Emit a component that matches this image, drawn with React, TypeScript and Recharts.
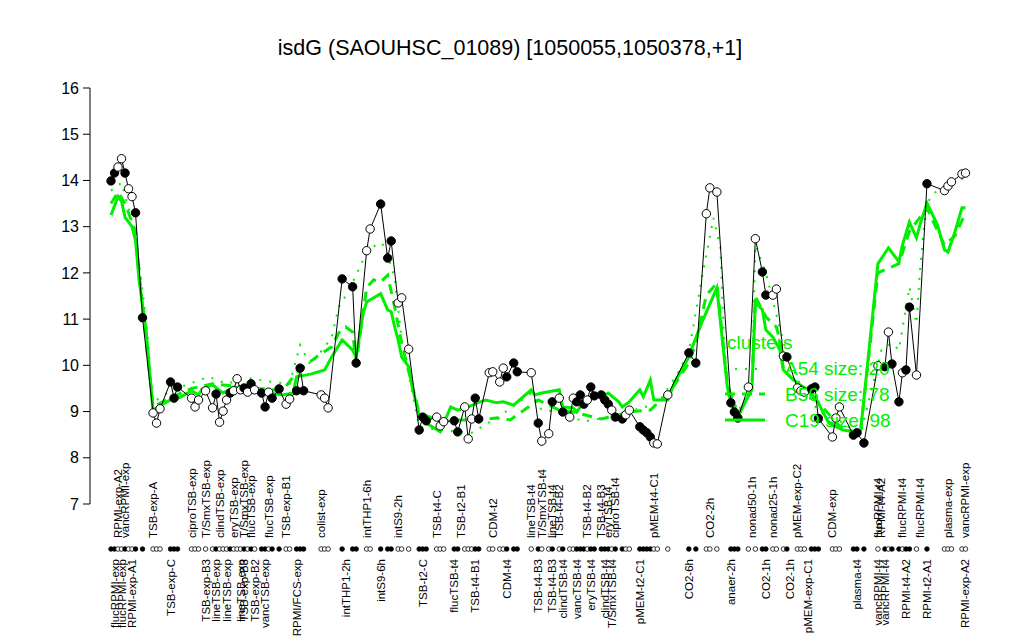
import React from 'react';
import { LineChart, Line, XAxis, YAxis } from 'recharts';

const FONT = '"Liberation Sans", Arial, Helvetica, sans-serif';
const GREEN = '#00ee00';

// position of each sample along the x axis, its expression and whether it is drawn filled
const samplePos = [
  6, 7, 8, 9, 10, 11, 12, 13, 15, 18,
  19, 20, 23, 24, 25, 29, 30, 31, 33, 35,
  36, 37, 38, 39, 40, 41, 42, 43, 44, 45,
  46, 47, 49, 50, 51, 52, 54, 56, 57, 59,
  60, 61, 66, 67, 68, 72, 75, 76, 79, 80,
  83, 85, 86, 88, 89, 91, 94, 95, 96, 99,
  100, 101, 104, 105, 107, 108, 109, 110, 111, 114,
  115, 117, 118, 119, 121, 122, 126, 128, 129, 131,
  132, 134, 135, 137, 138, 139, 140, 141, 142, 143,
  144, 146, 147, 148, 149, 150, 152, 153, 154, 157,
  158, 159, 160, 161, 162, 165, 171, 173, 176, 177,
  179, 183, 184, 185, 188, 190, 192, 193, 195, 196,
  198, 199, 202, 203, 204, 206, 207, 208, 212, 213,
  214, 218, 219, 221, 225, 227, 228, 229, 231, 232,
  233, 234, 236, 239, 244, 245, 246, 249, 250,
];
const expression = [
  13.99, 14.16, 14.29, 14.47, 14.16, 13.82, 13.65, 13.3, 11.03, 8.97,
  8.75, 9.06, 9.64, 9.29, 9.53, 9.29, 9.1, 9.25, 9.45, 9.08,
  9.38, 8.77, 9.01, 9.25, 9.4, 9.45, 9.71, 9.47, 9.51, 9.42,
  9.6, 9.47, 9.4, 9.1, 9.42, 9.29, 9.49, 9.16, 9.27, 9.45,
  9.94, 9.45, 9.36, 9.29, 9.08, 11.87, 11.7, 10.05, 12.48, 12.95,
  13.49, 12.32, 12.69, 11.35, 11.46, 10.35, 8.6, 8.88, 8.8, 8.88,
  8.69, 8.78, 8.8, 8.56, 9.1, 8.41, 8.84, 9.29, 8.84, 9.84,
  9.86, 9.64, 9.94, 9.75, 10.05, 9.86, 9.84, 8.75, 8.36, 8.52,
  9.21, 9.29, 8.99, 8.88, 9.29, 9.21, 9.36, 9.16, 9.25, 9.53,
  9.34, 9.36, 9.25, 9.16, 9.03, 8.88, 8.84, 8.93, 9.03, 8.67,
  8.6, 8.54, 8.45, 8.32, 8.3, 9.36, 10.27, 10.05, 13.28, 13.84,
  13.75, 9.19, 8.99, 8.86, 9.53, 12.74, 12.02, 11.52, 11.52, 11.65,
  10.2, 10.18, 9.51, 9.45, 9.42, 9.49, 9.53, 8.85, 8.45, 8.86,
  9.1, 8.49, 8.54, 8.32, 9.99, 9.97, 10.72, 10.03, 9.21, 9.84,
  9.9, 11.26, 9.79, 13.93, 13.78, 13.88, 13.97, 14.14, 14.16,
];
const isFilled = [
  1, 1, 0, 0, 1, 0, 0, 1, 1, 0,
  0, 0, 1, 1, 1, 0, 0, 0, 0, 0,
  1, 0, 0, 0, 1, 0, 0, 0, 1, 0,
  1, 0, 1, 1, 0, 1, 1, 0, 0, 1,
  1, 1, 0, 0, 0, 1, 1, 1, 0, 0,
  1, 1, 1, 0, 0, 0, 1, 1, 1, 0,
  0, 0, 1, 1, 0, 0, 0, 1, 1, 0,
  0, 0, 0, 1, 1, 1, 0, 1, 0, 0,
  1, 0, 1, 0, 0, 1, 1, 1, 0, 1,
  1, 1, 1, 1, 0, 1, 1, 0, 0, 1,
  1, 1, 1, 0, 0, 0, 1, 1, 0, 0,
  0, 1, 1, 1, 0, 0, 1, 1, 0, 0,
  0, 1, 0, 0, 0, 1, 1, 1, 0, 0,
  0, 1, 1, 1, 0, 1, 0, 1, 1, 0,
  1, 1, 0, 1, 0, 0, 0, 0, 0,
];

// cluster profiles
const c19Pos = [
  6, 8, 9, 10, 12, 13, 14, 16, 18, 20,
  23, 26, 29, 31, 32, 35, 38, 41, 45, 48,
  51, 55, 58, 59, 63, 67, 69, 72, 75, 76,
  78, 79, 83, 85, 86, 87, 88, 89, 91, 92,
  94, 96, 100, 103, 105, 108, 111, 113, 116, 118,
  121, 126, 127, 129, 134, 135, 138, 139, 141, 144,
  146, 148, 151, 152, 154, 157, 158, 160, 161, 165,
  167, 171, 172, 175, 179, 182, 183, 185, 187, 189,
  190, 192, 193, 195, 197, 198, 200, 202, 205, 208,
  209, 211, 215, 220, 225, 228, 231, 232, 234, 236,
  237, 239, 242, 244, 245, 247, 249, 250,
];
const c19Val = [
  13.25, 13.65, 13.55, 13.2, 13.0, 12.7, 11.85, 10.77, 9.03, 9.13,
  9.25, 9.32, 9.45, 9.36, 9.49, 9.58, 9.4, 9.53, 9.49, 9.47,
  9.4, 9.36, 9.4, 9.75, 9.81, 9.9, 10.18, 10.55, 10.33, 10.18,
  11.13, 11.37, 11.55, 11.2, 11.16, 10.83, 10.55, 10.18, 9.97, 9.53,
  8.93, 8.75, 8.56, 9.1, 9.03, 9.1, 9.2, 9.25, 9.19, 9.21,
  9.14, 9.47, 9.36, 9.4, 9.47, 9.1, 9.08, 8.99, 9.21, 9.36,
  9.32, 9.4, 9.21, 9.1, 9.21, 9.47, 9.32, 9.68, 9.25, 9.25,
  9.64, 10.18, 10.4, 10.98, 11.67, 9.53, 9.19, 8.88, 9.19, 9.47,
  11.37, 11.2, 10.77, 10.61, 10.33, 9.9, 9.75, 9.62, 9.47, 9.19,
  9.03, 8.75, 8.6, 8.54, 12.2, 12.54, 12.24, 12.6, 13.1, 12.76,
  13.04, 13.51, 13.04, 12.5, 12.45, 12.89, 13.41, 13.41,
];
const b56Pos = [
  6, 8, 10, 13, 14, 18, 23, 29, 35, 41,
  48, 55, 59, 65, 69, 71, 73, 75, 76, 79,
  81, 83, 85, 87, 89, 94, 100, 106, 111, 116,
  120, 128, 134, 138, 146, 151, 153, 160, 166, 171,
  173, 176, 179, 182, 185, 189, 190, 193, 196, 197,
  198, 202, 208, 215, 220, 225, 231, 234, 239, 244,
  247, 250,
];
const b56Val = [
  13.5, 13.75, 13.5, 12.9, 12.0, 9.1, 9.3, 9.5, 9.6, 9.55,
  9.5, 9.45, 9.85, 10.2, 10.4, 10.7, 10.83, 10.72, 10.05, 11.68,
  11.85, 11.8, 11.95, 11.26, 10.48, 8.97, 8.8, 8.82, 8.82, 8.86,
  8.82, 9.25, 9.03, 8.99, 8.84, 8.93, 8.99, 9.03, 9.47, 10.05,
  10.48, 11.52, 11.78, 9.6, 8.9, 9.5, 11.48, 11.05, 10.83, 10.55,
  9.9, 9.6, 9.2, 8.6, 8.55, 12.0, 12.2, 12.9, 13.4, 12.6,
  12.8, 13.3,
];
const a54Pos = [
  6, 9, 11, 12, 13, 16, 18, 23, 33, 34,
  39, 45, 51, 57, 60, 63, 69, 71, 74, 78,
  82, 84, 87, 89, 94, 100, 109, 117, 126, 129,
  134, 141, 145, 151, 157, 162, 168, 171, 175, 177,
  178, 180, 181, 182, 185, 189, 190, 193, 195, 198,
  202, 208, 214, 220, 226, 229, 231, 234, 236, 237,
  238, 239, 241, 245, 248, 250,
];
const a54Val = [
  13.78, 13.95, 13.4, 13.1, 12.8, 11.0, 9.2, 9.45, 9.73, 9.75,
  9.6, 9.73, 9.65, 9.6, 10.44, 10.0, 10.6, 11.26, 11.63, 12.28,
  12.65, 12.6, 11.91, 10.55, 8.67, 8.6, 8.54, 8.9, 9.4, 9.03,
  9.0, 8.78, 8.84, 8.9, 9.08, 9.15, 9.85, 10.3, 12.0, 12.78,
  13.19, 12.56, 10.61, 9.62, 9.0, 9.5, 12.6, 12.0, 11.4, 10.5,
  9.7, 9.0, 8.8, 8.5, 10.33, 10.48, 10.33, 11.7, 10.9, 12.06,
  12.87, 13.5, 13.73, 13.86, 13.97, 14.1,
];

// condition names above and below the sample strip
const topLabelPos = [
  8, 10, 18, 29, 33, 37, 41, 44, 46, 51,
  56, 66, 79, 88, 99, 106, 115, 126, 129, 132,
  134, 142, 146, 148, 150, 161, 177, 189, 195, 202,
  212, 225, 226, 232, 237, 245, 250,
];
const topLabels = [
  'RPMI-exp-A2', 'vancRPMI-exp', 'TSB-exp-A', 'ciproTSB-exp', 'T/SmxTSB-exp', 'clindTSB-exp', 'eryTSB-exp', 'T/SmxTSB-exp', 'flucTSB-exp', 'flucTSB-exp',
  'TSB-exp-B1', 'colist-exp', 'intTHP1-6h', 'intS9-2h', 'TSB-t4-C', 'TSB-t2-B1', 'CDM-t2', 'lineTSB-t4', 'T/SmxTSB-t4', 'lineTSB-t4',
  'TSB-t4-B2', 'TSB-t4-B2', 'TSB-t4-B3', 'eryTSB-t4', 'ciproTSB-t4', 'pMEM-t4-C1', 'CO2-2h', 'nonad50-1h', 'nonad25-1h', 'pMEM-exp-C2',
  'CDM-exp', 'flucRPMI-t4', 'RPMI-t4-A2', 'flucRPMI-t4', 'flucRPMI-t4', 'plasma-exp', 'vancRPMI-exp',
];
const bottomLabelPos = [
  7, 9, 12, 23, 33, 36, 39, 43, 44, 47,
  50, 59, 73, 83, 95, 104, 110, 119, 128, 132,
  135, 139, 143, 147, 149, 157, 171, 183, 193, 200,
  205, 219, 225, 227, 233, 239, 250,
];
const bottomLabels = [
  'flucRPMI-exp', 'flucRPMI-exp', 'RPMI-exp-A1', 'TSB-exp-C', 'TSB-exp-B3', 'lineTSB-exp', 'lineTSB-exp', 'lineTSB-exp', 'TSB-exp-B3', 'TSB-exp-B2',
  'vancTSB-exp', 'RPMI/FCS-exp', 'intTHP1-2h', 'intS9-6h', 'TSB-t2-C', 'flucTSB-t4', 'TSB-t4-B1', 'CDM-t4', 'TSB-t4-B3', 'TSB-t4-B3',
  'clindTSB-t4', 'vancTSB-t4', 'eryTSB-t4', 'clindTSB-t4', 'T/SmxTSB-t4', 'pMEM-t2-C1', 'CO2-6h', 'anaer-2h', 'CO2-1h', 'CO2-1h',
  'pMEM-exp-C1', 'plasma-t4', 'vancRPMI-t4', 'vancRPMI-t4', 'RPMI-t4-A2', 'RPMI-t2-A1', 'RPMI-exp-A2',
];

const yTicks = [7, 8, 9, 10, 11, 12, 13, 14, 15, 16];

const points = samplePos.map((x, i) => ({ x, v: expression[i], filled: isFilled[i] === 1 }));
const toSeries = (pos: number[], val: number[]) => pos.map((x, i) => ({ x, v: val[i] }));
const c19Data = toSeries(c19Pos, c19Val);
const b56Data = toSeries(b56Pos, b56Val);
const a54Data = toSeries(a54Pos, a54Val);

const allTicks = Array.from(new Set([...samplePos, ...topLabelPos, ...bottomLabelPos])).sort((a, b) => a - b);

function SampleTick(props: any) {
  const { x, y, payload } = props;
  const pos = payload.value;
  const si = samplePos.indexOf(pos);
  const ti = topLabelPos.indexOf(pos);
  const bi = bottomLabelPos.indexOf(pos);
  const topY = y + 34;
  const botY = y + 55;
  return (
    <g>
      {si >= 0 && (
        <circle cx={x} cy={y + 45} r={2.3} fill={isFilled[si] ? '#000' : '#fff'} stroke="#000" strokeWidth={0.8} />
      )}
      {ti >= 0 && (
        <text x={x} y={topY} transform={`rotate(-90 ${x} ${topY})`} textAnchor="start" dominantBaseline="central"
          fontSize={11.5} fontFamily={FONT} fill="#000">{topLabels[ti]}</text>
      )}
      {bi >= 0 && (
        <text x={x} y={botY} transform={`rotate(-90 ${x} ${botY})`} textAnchor="end" dominantBaseline="central"
          fontSize={11.5} fontFamily={FONT} fill="#000">{bottomLabels[bi]}</text>
      )}
    </g>
  );
}

function SampleDot(props: any) {
  const { cx, cy, payload, index } = props;
  return (
    <circle key={`pt-${index}`} cx={cx} cy={cy} r={4.2}
      fill={payload.filled ? '#000' : '#fff'} stroke="#000" strokeWidth={1} />
  );
}

export default function App() {
  return (
    <div style={{ position: 'absolute', left: 0, top: 0, width: 1024, height: 640, background: '#fff' }}>
      <LineChart width={1024} height={640} margin={{ top: 88, right: 34, bottom: 0, left: 0 }}>
        <XAxis type="number" dataKey="x" domain={[0, 257]} ticks={allTicks} interval={0}
          tick={<SampleTick />} tickLine={false} axisLine={false} tickSize={0} tickMargin={0} height={136} />
        <YAxis type="number" domain={[7, 16]} ticks={yTicks} width={90} stroke="#000" tickSize={7} tickMargin={4}
          tick={{ fill: '#000', fontSize: 16, fontFamily: FONT }} />
        <Line data={a54Data} dataKey="v" stroke={GREEN} strokeWidth={2} strokeDasharray="2 8"
          dot={false} activeDot={false} isAnimationActive={false} />
        <Line data={b56Data} dataKey="v" stroke={GREEN} strokeWidth={3} strokeDasharray="10 7"
          dot={false} activeDot={false} isAnimationActive={false} />
        <Line data={c19Data} dataKey="v" stroke={GREEN} strokeWidth={3}
          dot={false} activeDot={false} isAnimationActive={false} />
        <Line data={points} dataKey="v" stroke="#000" strokeWidth={1}
          dot={SampleDot} activeDot={false} isAnimationActive={false} />
      </LineChart>
      <svg width={1024} height={640} style={{ position: 'absolute', left: 0, top: 0, pointerEvents: 'none' }}>
        <text x={510} y={48} textAnchor="middle" dominantBaseline="central" fontSize={21.5} fontFamily={FONT} fill="#000">
          isdG (SAOUHSC_01089) [1050055,1050378,+1]
        </text>
        <g fontFamily={FONT} fontSize={19} fill={GREEN}>
          <text x={727} y={342} dominantBaseline="central">clusters</text>
          <line x1={725} x2={765} y1={369} y2={369} stroke={GREEN} strokeWidth={2} strokeDasharray="2 8" />
          <text x={785} y={368} dominantBaseline="central">A54 size: 20</text>
          <line x1={725} x2={765} y1={394} y2={394} stroke={GREEN} strokeWidth={3} strokeDasharray="10 7" />
          <text x={785} y={394} dominantBaseline="central">B56 size: 78</text>
          <line x1={725} x2={765} y1={420} y2={420} stroke={GREEN} strokeWidth={3} />
          <text x={785} y={420} dominantBaseline="central">C19 size: 98</text>
        </g>
      </svg>
    </div>
  );
}
